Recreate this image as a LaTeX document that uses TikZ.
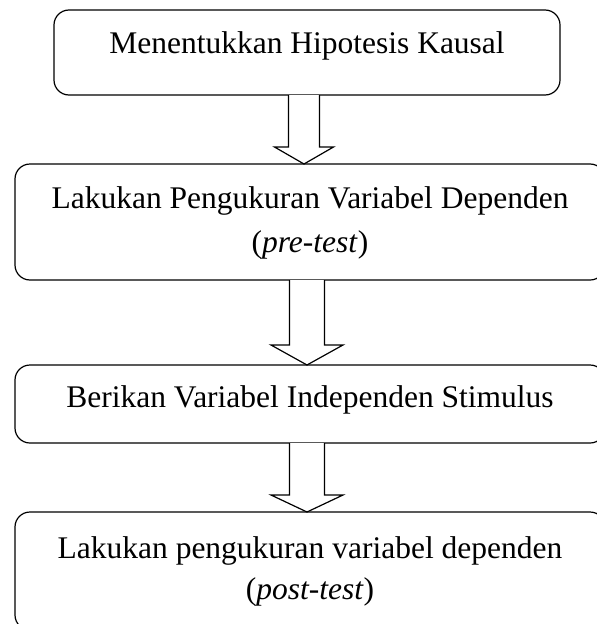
\documentclass[tikz,border=0pt]{standalone}
\usepackage{fontspec}
\setmainfont{Liberation Serif}
\usetikzlibrary{calc}

\begin{document}
\begin{tikzpicture}[x=1pt,y=-1pt,
		flowbox/.style={draw,line width=1.2pt,rounded corners=15pt,inner sep=0pt,outer sep=0pt},
		flowtext/.style={anchor=base,align=center,inner sep=0pt,font=\fontsize{31.5}{44}\selectfont},
		hollow/.style={draw,fill=white,line width=1.2pt,line join=miter}]
		\useasboundingbox (0,0) rectangle (597,624);
		\clip (0,0) rectangle (597,624);

		% Step boxes
		\node[flowbox,minimum width=506pt,minimum height=85pt] (b1) at (307,52.5) {};
		\node[flowbox,minimum width=590pt,minimum height=116pt] (b2) at (310,222) {};
		\node[flowbox,minimum width=590pt,minimum height=78pt] (b3) at (310,404) {};
		\node[flowbox,minimum width=590pt,minimum height=118pt] (b4) at (310,571) {};

		% Step texts (base = last line)
		\node[flowtext] (t1) at (307,53) {Menentukkan Hipotesis Kausal};
		\node[flowtext] (t2) at (310,252) {Lakukan Pengukuran Variabel Dependen\\(\textit{pre-test})};
		\node[flowtext] (t3) at (310,407) {Berikan Variabel Independen Stimulus};
		\node[flowtext,font=\fontsize{31.5}{41}\selectfont] (t4) at (310,599) {Lakukan pengukuran variabel dependen\\(\textit{post-test})};

		% Hollow arrows
		\foreach \a/\b/\dx/\sw/\hw/\hl in {b1/b2/-6/15.5/29.5/17, b2/b3/-3/17.5/36/20, b3/b4/-3/17.5/36/17}{
			\coordinate (tip) at ($(\b.north)+(\dx,0)$);
			\draw[hollow] ($(tip |- \a.south)+(-\sw,0)$) -- ($(tip)+(-\sw,-\hl)$) -- ($(tip)+(-\hw,-\hl)$) -- (tip)
				-- ($(tip)+(\hw,-\hl)$) -- ($(tip)+(\sw,-\hl)$) -- ($(tip |- \a.south)+(\sw,0)$);
		}
	\end{tikzpicture}
\end{document}
